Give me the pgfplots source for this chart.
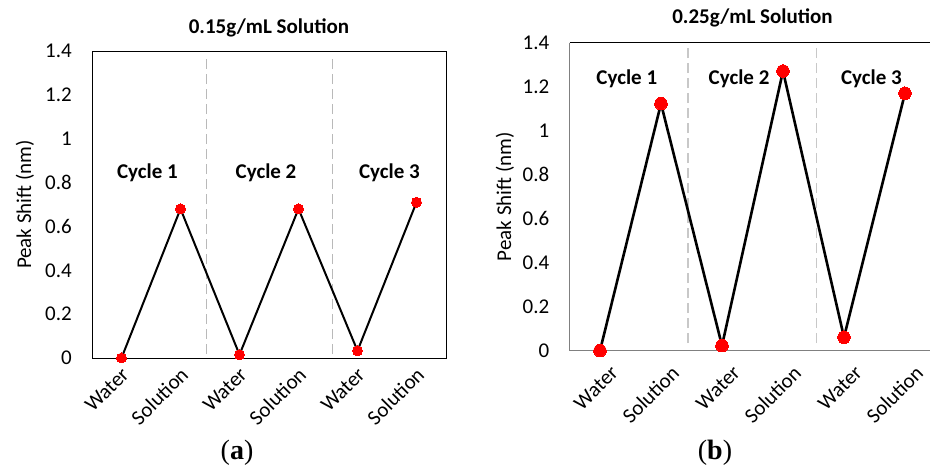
\documentclass[border=0pt]{standalone}
\usepackage{pgfplots}
\pgfplotsset{compat=1.18}
\usepackage{fontspec}
\setmainfont{Carlito}
\newfontfamily\capfont{Liberation Serif}
\definecolor{dashgray}{RGB}{185,185,185}
\definecolor{dashgrayb}{RGB}{200,200,200}
\definecolor{axgray}{RGB}{128,128,128}
\begin{document}
\fontsize{21pt}{25pt}\selectfont
\begin{tikzpicture}
\useasboundingbox (0,0) rectangle (930pt,468pt);
\pgfplotsset{
  common/.style={
    scale only axis, anchor=south west, clip=false,
    xmin=-0.5, xmax=5.5, ymin=0, ymax=1.4,
    xtick={0,1,2,3,4,5},
    xticklabels={Water,Solution,Water,Solution,Water,Solution},
    ytick={0,0.2,0.4,0.6,0.8,1,1.2,1.4},
    yticklabels={0,0.2,0.4,0.6,0.8,1,1.2,1.4},
    major tick length=0pt,
    /pgf/number format/assume math mode=true,
    tick label style={font=\fontsize{21pt}{25pt}\selectfont},
    yticklabel style={anchor=east, inner sep=0pt, xshift=-20pt},
    xticklabel style={xshift=4pt, yshift=-13pt, rotate=45, anchor=east, inner sep=0pt},
    label style={font=\fontsize{21pt}{25pt}\selectfont},
    title style={font=\fontsize{21pt}{25pt}\selectfont\bfseries, anchor=base, inner sep=0pt},
  }
}
% ---------- left panel ----------
\begin{axis}[common,
  width=354pt, height=307pt, at={(92pt,110pt)},
  axis line style={black, line width=0.9pt},
  title={0.15g/mL Solution},
  title style={at={([yshift=11pt]axis description cs:0.5,1)}},
  ylabel={Peak Shift (nm)},
  ylabel style={at={([xshift=-67pt]axis description cs:0,0.5)}, anchor=center},
]
\addplot[dashgray, line width=1.5pt, dash pattern=on 10pt off 5pt] coordinates {(1.44,0.018) (1.44,1.386)};
\addplot[dashgray, line width=1.5pt, dash pattern=on 10pt off 5pt] coordinates {(3.58,0.018) (3.58,1.386)};
\addplot[black, line width=2pt, mark=*, mark size=5pt,
  mark options={fill=red, draw=red, line width=0pt}]
  coordinates {(0,0) (1,0.68) (2,0.015) (3,0.68) (4,0.033) (5,0.71)};
\node[font=\fontsize{21pt}{25pt}\selectfont\bfseries, anchor=base] at (axis cs:0.44,0.819) {Cycle 1};
\node[font=\fontsize{21pt}{25pt}\selectfont\bfseries, anchor=base] at (axis cs:2.45,0.819) {Cycle 2};
\node[font=\fontsize{21pt}{25pt}\selectfont\bfseries, anchor=base] at (axis cs:4.54,0.819) {Cycle 3};
\end{axis}
\node[anchor=base, font=\capfont\fontsize{28pt}{30pt}\selectfont] at (237pt,8pt) {(\textbf{a})};
% ---------- right panel ----------
\begin{axis}[common,
  width=366pt, height=308pt, at={(569.5pt,117.3pt)},
  axis x line*=bottom, axis y line*=left,
  axis line style={axgray, line width=1pt},
  title={0.25g/mL Solution},
  title style={at={([yshift=12.7pt]axis description cs:0.5,1)}},
  ylabel={Peak Shift (nm)},
  ylabel style={at={([xshift=-64.5pt]axis description cs:0,0.5)}, anchor=center},
  xticklabel style={xshift=3.5pt, yshift=-11.5pt},
]
\draw[black, line width=1pt] (rel axis cs:0,1) -- (rel axis cs:1,1);
\addplot[dashgrayb, line width=1.5pt, dash pattern=on 10pt off 5pt] coordinates {(1.44,0.034) (1.44,1.39)};
\addplot[dashgrayb, line width=1.5pt, dash pattern=on 10pt off 5pt] coordinates {(3.55,0.034) (3.55,1.39)};
\addplot[black, line width=2.6pt, mark=*, mark size=6.3pt,
  mark options={fill=red, draw=red, line width=0pt}]
  coordinates {(0,0) (1,1.123) (2,0.023) (3,1.271) (4,0.061) (5,1.170)};
\node[font=\fontsize{21pt}{25pt}\selectfont\bfseries, anchor=base] at (axis cs:0.44,1.208) {Cycle 1};
\node[font=\fontsize{21pt}{25pt}\selectfont\bfseries, anchor=base] at (axis cs:2.28,1.208) {Cycle 2};
\node[font=\fontsize{21pt}{25pt}\selectfont\bfseries, anchor=base] at (axis cs:4.45,1.208) {Cycle 3};
\end{axis}
\node[anchor=base, font=\capfont\fontsize{28pt}{30pt}\selectfont] at (715pt,8pt) {(\textbf{b})};
\end{tikzpicture}
\end{document}
